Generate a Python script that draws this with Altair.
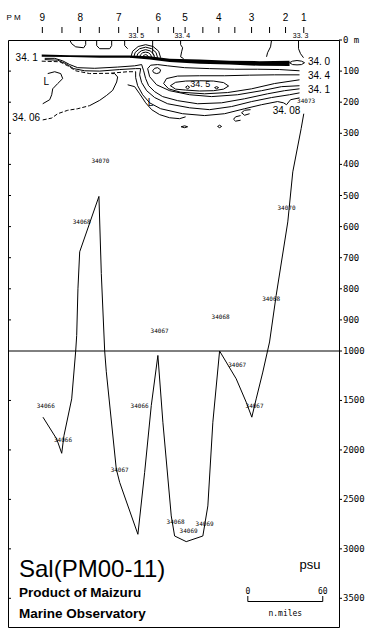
import altair as alt
import pandas as pd

# distance along the section in nautical miles, depth in metres
station_tick_nm = [27.5, 43.2, 57.9, 73.1, 88.6, 103.8, 120.3, 132.6, 141.8, 156, 168.8, 181.6, 195, 209.4, 222.2, 236.8]
station_label_nm = [27.5, 57.9, 88.6, 120.3, 141.8, 168.8, 195, 222.2, 236.8]
station_names = ["9", "8", "7", "6", "5", "4", "3", "2", "1"]
header_label_nm = [4.5]
header_label = ["P M"]

surface_label_nm = [102.7, 139.5, 234.2]
surface_labels = ["33. 5", "33. 4", "33. 3"]

depth_ticks = [0, 100, 200, 300, 400, 500, 600, 700, 800, 900, 1000, 1500, 2000, 2500, 3000, 3500]
depth_tick_labels = ["0 m", "100", "200", "300", "400", "500", "600", "700", "800", "900", "1000",
                     "1500", "2000", "2500", "3000", "3500"]
inner_ticks = [100, 200, 300, 400, 500, 600, 700, 800, 900, 1500, 2000, 2500, 3000, 3500]

# ---- upper layer contours (nm, m)
sfc_a = [(49.4, 0), (51, 12), (54.2, 22), (60.6, 25), (62.2, 15), (62.2, 0)]
sfc_b = [(71, 0), (71, 18), (73.4, 28), (81.4, 28), (83, 18), (83, 0)]
sfc_c = [(93.4, 0), (93.4, 18), (95.8, 28)]
sfc_d = [(115.8, 0), (115.8, 44), (117, 50)]
sfc_e = [(138.2, 0), (138.2, 15), (139.8, 25), (139, 38), (138.2, 54), (140.6, 60)]
sfc_f = [(211, 0), (210.2, 22), (207.8, 41), (207, 54)]
sfc_g = [(232.6, 0), (232.6, 28), (234.2, 44), (236.6, 57)]

arc1 = [(107.8, 57), (108.1, 52), (109, 49), (110.2, 47), (111.4, 49), (112.2, 52), (112.6, 57)]
arc2 = [(105.4, 57), (106, 48), (107.8, 41), (110.2, 39), (112.6, 41), (114.3, 48), (115, 57)]
arc3 = [(102.9, 57), (103.9, 44), (106.6, 35), (110.2, 31), (113.8, 35), (116.4, 44), (117.4, 57)]
arc4 = [(100.6, 57), (101.8, 40), (105.4, 28), (110.2, 23), (115, 28), (118.5, 40), (119.8, 57)]
arc5 = [(98.2, 57), (99.8, 36), (104.2, 21), (110.2, 15), (116.2, 21), (120.6, 36), (122.2, 57)]

band_x = [27, 49.4, 73.4, 97.4, 113.4, 129.4, 153.4, 177.4, 201.4, 225.4]
band_top = [47, 49, 50, 50, 52, 60, 63, 67, 68, 67]
band_bot = [54, 55, 57, 57, 63, 71, 76, 79, 83, 84]

oval_340 = [(225.4, 73), (227.8, 68), (231.4, 66), (235, 68), (237.4, 73), (235, 79), (231.4, 80), (227.8, 79), (225.4, 73)]

c_g1 = [(29.4, 59), (37.4, 59), (43.8, 67), (49.4, 79), (55.8, 89), (69.4, 91), (87.8, 87), (101.4, 83), (107, 79),
        (108.6, 99), (110.2, 124), (112.6, 147), (117.4, 166), (123.8, 182), (135.8, 195), (151.8, 205), (171, 202),
        (189.4, 189), (207.8, 173), (221.4, 163), (233.4, 157)]
c_g2 = [(29.4, 63), (39.8, 65), (46.2, 76), (52.6, 92), (61.4, 99), (73.4, 100), (89.4, 95), (102.2, 92), (106.2, 92),
        (105.4, 112), (107, 137), (111, 163), (117.4, 185), (127.8, 205), (145.4, 218), (161.4, 224), (179, 214),
        (195, 198), (211, 185), (225.4, 176), (233.4, 170)]
c_g3 = [(27, 68), (41.4, 70), (47.8, 83), (54.2, 99), (65.4, 108), (81.4, 107), (95.8, 102), (102.2, 102)]
c_l1 = [(102.2, 102), (102.2, 121), (103.8, 147), (107.8, 176), (113.4, 202), (122.2, 221), (139.8, 237), (157.4, 243),
        (173.4, 237), (189.4, 221), (203, 208), (215.8, 198), (220.6, 202), (223, 208), (226.2, 192), (233.4, 186)]
c_l4 = [(233.4, 99), (217.4, 95), (199.8, 94), (181.4, 94), (161.4, 92), (141.4, 89), (127.8, 83), (119.8, 79),
        (114.2, 81), (111.8, 92), (113.4, 118), (119, 144), (129.4, 163), (145.4, 176), (163, 182), (183.8, 176),
        (203, 163), (219, 150), (233.4, 147)]
c_l5 = [(233.4, 112), (213.4, 112), (193.4, 113), (173.4, 115), (153.4, 115), (135.8, 116), (126.9, 124), (124.6, 140),
        (128.6, 157), (138.2, 168), (157.4, 173), (175.8, 169), (195, 157), (213.4, 140), (233.4, 128)]
c_core = [(130, 147), (134.2, 136), (142.2, 132), (153.4, 131), (164.6, 132), (172.6, 137), (176.6, 148), (172.6, 158),
          (164.6, 163), (153.4, 164), (142.2, 161), (134.2, 158), (130, 147)]
c_nose = [(115.8, 99), (117.4, 91), (119.8, 89), (122.2, 96), (121.4, 105), (119, 108), (116.6, 105), (115.8, 99)]
c_dot1 = [(142.2, 152), (143.8, 147), (145.4, 152), (143.8, 157), (142.2, 152)]
c_dot2 = [(165.4, 153), (167, 150), (168.6, 153), (167, 157), (165.4, 153)]

c_w1_dash = [(27.8, 257), (35, 251), (39.8, 237), (47.8, 226), (55.8, 221), (65.4, 211)]
c_w1 = [(65.4, 211), (73.4, 194), (79, 178), (83.8, 162), (87, 135), (87.8, 119), (85.4, 108), (83, 108)]
c_w2 = [(27.8, 205), (33.4, 192), (35, 176), (35.8, 157), (39.8, 140), (43.8, 124), (42.2, 108), (37.4, 102), (31.8, 108)]
c_w3 = [(95.8, 144), (101.4, 150), (105.4, 173), (110.2, 202), (115, 224), (121.4, 240), (129.4, 250), (137.4, 253), (142.2, 247)]
loop_a = [(138.6, 279), (141.4, 276), (143.8, 279), (141.4, 282), (138.6, 279)]
loop_b = [(167.8, 278), (169.4, 274), (171, 278), (169.4, 282), (167.8, 278)]
hook_c = [(186.2, 243), (182.2, 247), (180.6, 255), (182.2, 261), (186.2, 258)]
loop_d = [(194.2, 224), (189.4, 226), (187, 234), (189.4, 242), (193.4, 237)]

# ---- deep contour (34.066 - 34.073)
deep_main = [(28, 1669), (39, 1890), (43, 2034), (44.8, 1856), (51, 1484), (54.2, 1000), (55, 950), (56, 800), (57.4, 681),
             (72.8, 503), (74.7, 751), (77.4, 1000), (78.7, 1210), (86.7, 2193), (89.4, 2328), (104, 2853), (109.4, 2227),
             (114.7, 1552), (120, 1045), (124, 1720), (130.7, 2667), (133.4, 2870), (142.7, 2927), (156, 2870),
             (160, 2566), (164, 1720), (169.4, 1000), (174.7, 1112), (182.7, 1281), (190.7, 1517), (195.2, 1669),
             (198.7, 1484), (204, 1213), (209.4, 971), (214.7, 821), (224, 585), (228, 424), (234.7, 285), (236.8, 237)]

deep_label_text = ["34070", "34068", "34070", "34068", "34067", "34068", "34067", "34067", "34066", "34066",
                   "34066", "34067", "34068", "34069", "34069", "34073"]
deep_label_nm = [74, 59, 223, 210.7, 121.4, 170.2, 183.5, 197.4, 30.2, 44, 105.4, 89.4, 134.2, 144.6, 157.4, 238.7]
deep_label_d = [390, 586, 539, 834, 937, 892, 1146, 1552, 1552, 1899, 1552, 2201, 2728, 2819, 2744, 197]

cont_label_text = ["34. 1", "34. 0", "34. 4", "34. 1", "34. 06", "34. 08"]
cont_label_nm = [15, 249, 249, 249, 14.6, 223]
cont_label_d = [59, 70, 115, 161, 251, 227]

core_label_text = ["34. 5"]
core_label_nm = [154]
core_label_d = [143]

low_label_text = ["L", "L"]
low_label_nm = [30.7, 114.2]
low_label_d = [135, 202]

scale_bar_nm = [192, 252]
scale_bar_text = ["0", "60"]


def to_df(named):
    rows = []
    for name, pts in named.items():
        for i, (x, d) in enumerate(pts):
            rows.append({"id": name, "o": i, "x": x, "d": d})
    return pd.DataFrame(rows)


solid = to_df({
    "sfc_a": sfc_a, "sfc_b": sfc_b, "sfc_c": sfc_c, "sfc_d": sfc_d, "sfc_e": sfc_e, "sfc_f": sfc_f, "sfc_g": sfc_g,
    "arc1": arc1, "arc2": arc2, "arc3": arc3, "arc4": arc4, "arc5": arc5, "oval": oval_340,
    "g1": c_g1, "g2": c_g2, "l1": c_l1, "l4": c_l4, "l5": c_l5, "core": c_core, "nose": c_nose,
    "dot1": c_dot1, "dot2": c_dot2, "w1": c_w1, "w2": c_w2, "w3": c_w3,
    "la": loop_a, "lb": loop_b, "hc": hook_c, "ld": loop_d, "deep": deep_main,
})
dashed = to_df({"g3": c_g3, "w1d": c_w1_dash})
band = pd.DataFrame({"x": band_x, "top": band_top, "bot": band_bot})

W, H = 331, 587
xs = alt.Scale(domain=[0, 265], nice=False, zero=False)
ys = alt.Scale(domain=[0, 1000, 3790], range=[0, 311, H], nice=False, zero=False)
X = lambda f="x": alt.X(f"{f}:Q", scale=xs, axis=None)
Y = lambda f="d": alt.Y(f"{f}:Q", scale=ys, axis=None)
FONT = "Liberation Sans"

band_layer = alt.Chart(band).mark_area(color="black").encode(x=X(), y=Y("top"), y2="bot:Q")
solid_layer = alt.Chart(solid).mark_line(color="black", strokeWidth=1).encode(
    x=X(), y=Y(), detail="id:N", order="o:Q")
dashed_layer = alt.Chart(dashed).mark_line(color="black", strokeWidth=1, strokeDash=[4, 2]).encode(
    x=X(), y=Y(), detail="id:N", order="o:Q")

# depth axis: inner ticks on the left, outer ticks + labels on the right
left_ticks = alt.Chart(pd.DataFrame({"d": inner_ticks})).mark_rule(color="black").encode(
    x=alt.value(0), x2=alt.value(3), y=Y())
axis_df = pd.DataFrame({"d": depth_ticks, "t": depth_tick_labels})
right_ticks = alt.Chart(axis_df).mark_rule(color="black").encode(
    x=alt.value(W), x2=alt.value(W + 3), y=Y())
right_labels = alt.Chart(axis_df).mark_text(
    font="DejaVu Sans Mono", fontSize=9, color="black", align="left", baseline="middle").encode(
    x=alt.value(W + 4), y=Y(), text="t:N")
divider = alt.Chart(pd.DataFrame({"d": [1000]})).mark_rule(color="black").encode(
    y=Y(), x=alt.value(0), x2=alt.value(W))

# station axis on top
st_ticks = alt.Chart(pd.DataFrame({"x": station_tick_nm})).mark_rule(color="black").encode(
    x=X(), y=alt.value(-13), y2=alt.value(-7))
st_labels = alt.Chart(pd.DataFrame({"x": station_label_nm, "t": station_names})).mark_text(
    font=FONT, fontSize=10, color="black").encode(x=X(), y=alt.value(-22), text="t:N")
hdr_label = alt.Chart(pd.DataFrame({"x": header_label_nm, "t": header_label})).mark_text(
    font=FONT, fontSize=8, color="black").encode(x=X(), y=alt.value(-22), text="t:N")
sfc_labels = alt.Chart(pd.DataFrame({"x": surface_label_nm, "t": surface_labels})).mark_text(
    font=FONT, fontSize=7, color="black").encode(x=X(), y=alt.value(-4), text="t:N")

cont_labels = alt.Chart(pd.DataFrame({"x": cont_label_nm, "d": cont_label_d, "t": cont_label_text})).mark_text(
    font=FONT, fontSize=10, color="black").encode(x=X(), y=Y(), text="t:N")
core_labels = alt.Chart(pd.DataFrame({"x": core_label_nm, "d": core_label_d, "t": core_label_text})).mark_text(
    font=FONT, fontSize=9, color="black").encode(x=X(), y=Y(), text="t:N")
low_labels = alt.Chart(pd.DataFrame({"x": low_label_nm, "d": low_label_d, "t": low_label_text})).mark_text(
    font=FONT, fontSize=10, color="black").encode(x=X(), y=Y(), text="t:N")
deep_labels = alt.Chart(pd.DataFrame({"x": deep_label_nm, "d": deep_label_d, "t": deep_label_text})).mark_text(
    font="DejaVu Sans Mono", fontSize=6, color="black").encode(x=X(), y=Y(), text="t:N")

# titles
def txt(s, x, y, size, weight="normal", align="left"):
    return alt.Chart(pd.DataFrame({"t": [s]})).mark_text(
        font=FONT, fontSize=size, fontWeight=weight, align=align, baseline="middle", color="black").encode(
        text="t:N", x=alt.value(x), y=alt.value(y))

title1 = txt("Sal(PM00-11)", 11, 530, 24)
title2 = txt("Product of Maizuru", 11, 553, 13.5, "bold")
title3 = txt("Marine Observatory", 11, 574, 13.5, "bold")
psu = txt("psu", 302, 525, 13, align="center")

# scale bar
sb = pd.DataFrame({"x": scale_bar_nm, "t": scale_bar_text})
sb_line = alt.Chart(pd.DataFrame({"x": [scale_bar_nm[0]], "x2": [scale_bar_nm[1]]})).mark_rule(color="black").encode(
    x=X(), x2="x2:Q", y=alt.value(561.5))
sb_ticks = alt.Chart(sb).mark_rule(color="black").encode(x=X(), y=alt.value(556), y2=alt.value(561.5))
sb_text = alt.Chart(sb).mark_text(font="DejaVu Sans Mono", fontSize=8, color="black").encode(
    x=X(), y=alt.value(552), text="t:N")
sb_unit = alt.Chart(pd.DataFrame({"x": [sum(scale_bar_nm) / 2], "t": ["n.miles"]})).mark_text(
    font="DejaVu Sans Mono", fontSize=8, color="black").encode(x=X(), y=alt.value(574), text="t:N")

chart = alt.layer(
    band_layer, solid_layer, dashed_layer, left_ticks, right_ticks, right_labels, divider,
    st_ticks, st_labels, hdr_label, sfc_labels, cont_labels, core_labels, low_labels, deep_labels,
    title1, title2, title3, psu, sb_line, sb_ticks, sb_text, sb_unit,
).properties(
    width=W, height=H,
    autosize=alt.AutoSizeParams(type="none"),
    padding={"left": 8, "top": 40, "right": 37, "bottom": 11},
    background="white",
).configure_view(stroke="black", strokeWidth=1)

chart.save("out.html", embed_options={"renderer": "svg", "actions": False})
